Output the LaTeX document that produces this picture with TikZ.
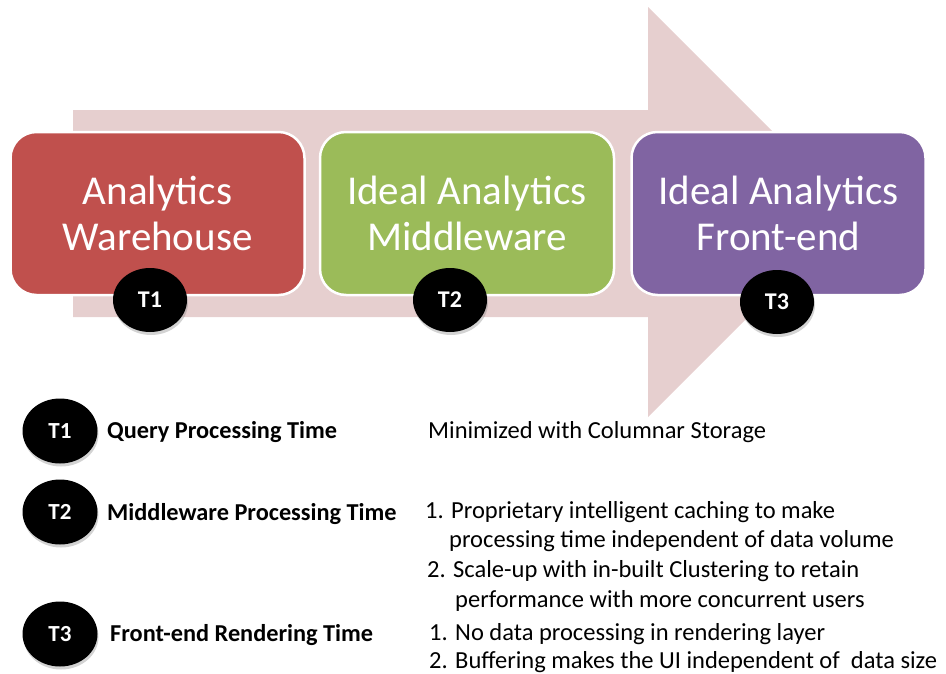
\documentclass[tikz,border=0pt]{standalone}
\usepackage{fontspec}
\setmainfont{Carlito}
\usetikzlibrary{shapes.geometric,shadows}
\definecolor{arrowpink}{HTML}{E6CFCF}
\definecolor{boxred}{HTML}{C0504D}
\definecolor{boxgreen}{HTML}{9BBB59}
\definecolor{boxpurple}{HTML}{8064A2}
\tikzset{
  stagebox/.style={draw=white, line width=2.5pt, rounded corners=26pt,
    minimum width=294pt, minimum height=163pt, align=center, text=white,
    font=\fontsize{41}{46}\selectfont, inner sep=0pt},
  tbadge/.style={ellipse, fill=black, minimum width=74pt, minimum height=64pt,
    inner sep=0pt, text=white, font=\bfseries\fontsize{24}{26}\selectfont,
    drop shadow={opacity=0.35, shadow xshift=1pt, shadow yshift=-3pt}},
  lbadge/.style={tbadge, minimum width=75pt, minimum height=65pt,
    font=\bfseries\fontsize{23}{25}\selectfont},
  lbl/.style={anchor=base west, inner sep=0pt, font=\bfseries\fontsize{24.3}{29}\selectfont},
  desc/.style={anchor=base west, inner sep=0pt, font=\fontsize{24.5}{29}\selectfont}
}
\begin{document}
\begin{tikzpicture}[x=1pt,y=-1pt]
\useasboundingbox (0,0) rectangle (946,673);
% big background arrow
\fill[arrowpink] (73,110) -- (648,110) -- (648,7) -- (853,212) -- (648,417)
  -- (648,317) -- (73,317) -- cycle;
% stage boxes
\node[stagebox, fill=boxred]    (wh) at (157.5,213.5) {Analytics\\Warehouse};
\node[stagebox, fill=boxgreen]  (mw) at (467,213.5) {Ideal Analytics\\Middleware};
\node[stagebox, fill=boxpurple] (fe) at (778.5,213.5) {Ideal Analytics\\Front-end};
% badges on boxes
\node[tbadge] (b1) at (150,300) {T1};
\node[tbadge] (b2) at (450,300) {T2};
\node[tbadge] (b3) at (777,302) {T3};
% legend badges
\node[lbadge] (l1) at (60,431) {T1};
\node[lbadge] (l2) at (60,512) {T2};
\node[lbadge] (l3) at (60,634) {T3};
% legend labels
\node[lbl] (q1) at (107,438) {Query Processing Time};
\node[lbl] (q2) at (107,520) {Middleware Processing Time};
\node[lbl] (q3) at (110,641) {Front-end Rendering Time};
% descriptions
\node[desc] (d1)  at (428,438) {Minimized with Columnar Storage};
\node[desc] (d2a) at (425,518) {1. Proprietary intelligent caching to make};
\node[desc] (d2b) at (449,547) {processing time independent of data volume};
\node[desc] (d2c) at (427,577) {2. Scale-up with in-built Clustering to retain};
\node[desc] (d2d) at (455,607) {performance with more concurrent users};
\node[desc] (d3a) at (429,640) {1. No data processing in rendering layer};
\node[desc] (d3b) at (429,668) {2. Buffering makes the UI independent of \ data size};
\end{tikzpicture}
\end{document}
